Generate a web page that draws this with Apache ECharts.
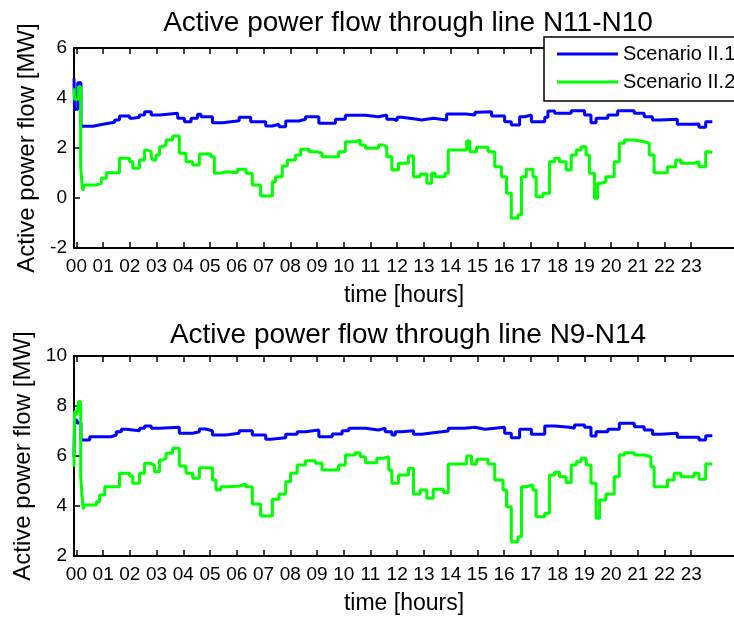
<!DOCTYPE html>
<html>
<head>
<meta charset="utf-8">
<script src="https://cdn.jsdelivr.net/npm/echarts@6.0.0/dist/echarts.min.js"></script>
<style>
  html, body { margin: 0; padding: 0; background: #fff; }
  #chart { width: 734px; height: 617px; }
</style>
</head>
<body>
<div id="chart"></div>
<script>
// hour ticks 00..23
var hours = [];
for (var h = 0; h < 24; h++) hours.push(h);

// line N11-N10 : step breakpoints (hour, MW)
var topBlueT = [-0.09, -0.07, 0.05, 0.17, 0.62, 0.99, 1.43, 1.61, 1.99, 2.11, 2.36, 2.55, 2.80, 3.11, 3.79, 4.04, 4.29, 4.53, 4.66, 5.09, 5.47, 6.09, 6.52, 7.08, 7.33, 7.58, 7.83, 8.32, 8.57, 9.07, 9.69, 10.06, 10.81, 11.30, 11.61, 11.86, 12.0, 12.17, 12.61, 12.92, 13.35, 13.85, 14.58, 14.91, 15.03, 15.53, 16.02, 16.27, 16.58, 16.77, 17.02, 17.52, 17.64, 17.89, 18.51, 19.01, 19.25, 19.44, 19.88, 20.25, 20.87, 21.24, 21.55, 21.86, 22.48, 22.98, 23.29, 23.54, 23.79];
var topBlueV = [4.79, 3.55, 4.61, 2.87, 2.95, 3.03, 3.12, 3.28, 3.19, 3.23, 3.32, 3.45, 3.32, 3.39, 3.19, 3.05, 3.19, 3.35, 3.25, 3.01, 3.09, 3.23, 3.05, 2.88, 2.95, 2.85, 3.08, 3.15, 3.25, 2.99, 3.15, 3.31, 3.25, 3.32, 3.15, 3.10, 3.23, 3.17, 3.12, 3.19, 3.12, 3.36, 3.32, 3.43, 3.45, 3.28, 3.05, 2.92, 3.25, 3.32, 3.05, 3.23, 3.48, 3.39, 3.49, 3.32, 3.01, 3.19, 3.32, 3.49, 3.39, 3.25, 3.12, 3.15, 2.95, 2.96, 2.83, 3.05, 3.05];
var topGreenT = [-0.09, -0.07, 0.08, 0.16, 0.2, 0.24, 0.3, 0.74, 0.93, 1.12, 1.61, 1.99, 2.11, 2.36, 2.55, 2.67, 2.80, 2.86, 2.98, 3.11, 3.23, 3.35, 3.60, 3.85, 4.10, 4.35, 4.60, 5.03, 5.16, 5.34, 5.65, 6.02, 6.34, 6.58, 6.89, 7.33, 7.45, 7.70, 7.89, 8.20, 8.39, 8.70, 9.01, 9.19, 9.81, 10.06, 10.43, 10.62, 10.81, 11.30, 11.49, 11.61, 11.80, 12.05, 12.42, 12.61, 12.86, 13.11, 13.29, 13.42, 13.79, 13.91, 14.60, 14.72, 14.97, 15.40, 15.65, 15.90, 16.09, 16.27, 16.52, 16.65, 16.83, 17.08, 17.20, 17.45, 17.70, 17.89, 18.07, 18.32, 18.51, 18.70, 18.88, 19.07, 19.19, 19.38, 19.50, 19.63, 19.81, 20.12, 20.31, 20.50, 20.87, 21.24, 21.43, 21.61, 22.11, 22.42, 22.61, 23.11, 23.29, 23.54, 23.66, 23.79];
var topGreenV = [4.39, 3.95, 4.45, 1.25, 0.7, 0.3, 0.52, 0.59, 0.79, 1.01, 1.59, 1.45, 1.19, 1.52, 1.92, 1.85, 1.65, 1.52, 1.72, 2.05, 2.12, 2.32, 2.48, 1.79, 1.45, 1.32, 1.76, 1.65, 0.99, 1.05, 1.01, 1.15, 0.99, 0.52, 0.08, 0.65, 0.85, 1.28, 1.52, 1.72, 1.95, 1.85, 1.79, 1.65, 1.85, 2.25, 2.32, 2.12, 1.99, 2.12, 2.05, 1.65, 1.12, 1.39, 1.68, 0.85, 0.96, 0.59, 0.99, 0.85, 0.99, 1.92, 2.28, 1.85, 2.03, 1.85, 1.25, 0.85, 0.19, -0.81, -0.68, 0.85, 1.15, 0.85, 0.05, 0.19, 1.45, 1.59, 1.45, 1.12, 1.72, 1.92, 2.05, 1.72, 0.99, -0.01, 0.59, 0.65, 0.85, 1.45, 2.19, 2.32, 2.25, 2.19, 1.72, 1.01, 1.25, 1.52, 1.39, 1.45, 1.25, 1.85, 1.82, 1.82];

// line N9-N14
var botBlueT = [-0.09, -0.07, 0.02, 0.17, 0.50, 1.30, 1.49, 1.68, 1.86, 2.36, 2.55, 2.80, 3.11, 3.85, 4.35, 4.60, 4.84, 5.09, 5.59, 6.09, 6.58, 7.08, 7.27, 7.83, 8.26, 8.57, 9.07, 9.57, 9.94, 10.19, 10.81, 11.30, 11.55, 11.80, 11.93, 12.17, 12.61, 12.92, 13.35, 13.91, 14.53, 14.91, 15.28, 16.02, 16.27, 16.58, 17.02, 17.52, 17.89, 18.45, 18.63, 19.01, 19.25, 19.44, 19.88, 20.31, 20.87, 21.24, 21.55, 21.86, 22.48, 23.29, 23.54, 23.79];
var botBlueV = [5.97, 7.44, 7.32, 6.64, 6.77, 6.84, 6.97, 7.07, 7.01, 7.11, 7.2, 7.11, 7.15, 6.91, 6.97, 7.08, 7.01, 6.84, 6.91, 7.01, 6.84, 6.67, 6.73, 6.87, 6.97, 7.04, 6.77, 6.88, 7.01, 7.11, 7.04, 7.11, 6.97, 6.84, 6.97, 7.01, 6.87, 6.93, 7.0, 7.11, 7.15, 7.07, 7.15, 6.91, 6.73, 7.07, 6.87, 7.2, 7.15, 7.11, 7.24, 7.15, 6.8, 6.97, 7.07, 7.31, 7.17, 7.04, 6.87, 6.91, 6.75, 6.64, 6.81, 6.81];
var botGreenT = [-0.09, -0.07, 0.02, 0.08, 0.16, 0.22, 0.25, 0.31, 0.75, 0.87, 1.06, 1.61, 1.99, 2.11, 2.36, 2.55, 2.73, 2.92, 3.11, 3.23, 3.35, 3.60, 3.85, 4.10, 4.35, 4.60, 5.09, 5.22, 5.40, 5.71, 6.09, 6.34, 6.58, 6.89, 7.33, 7.58, 7.83, 8.01, 8.26, 8.57, 8.94, 9.19, 9.81, 10.06, 10.43, 10.62, 10.81, 11.24, 11.49, 11.68, 11.80, 12.05, 12.42, 12.61, 12.86, 13.11, 13.35, 13.73, 13.91, 14.60, 14.78, 14.97, 15.40, 15.65, 15.96, 16.09, 16.27, 16.52, 16.65, 16.83, 17.08, 17.20, 17.52, 17.70, 17.89, 18.07, 18.32, 18.51, 18.70, 18.88, 19.07, 19.25, 19.44, 19.57, 19.81, 20.12, 20.31, 20.50, 20.87, 21.24, 21.49, 21.61, 22.11, 22.36, 22.61, 23.11, 23.29, 23.54, 23.79];
var botGreenV = [5.57, 7.77, 7.64, 8.17, 5.17, 4.3, 3.87, 4.04, 4.17, 4.44, 4.77, 5.31, 5.2, 4.91, 5.31, 5.71, 5.64, 5.37, 5.84, 5.91, 6.11, 6.31, 5.6, 5.31, 5.11, 5.53, 5.04, 4.64, 4.77, 4.8, 4.88, 4.77, 4.08, 3.6, 4.27, 4.48, 4.97, 5.31, 5.64, 5.81, 5.71, 5.44, 5.64, 6.04, 6.13, 5.97, 5.73, 5.91, 5.97, 5.44, 4.91, 5.24, 5.51, 4.48, 4.64, 4.31, 4.67, 4.53, 5.68, 6.0, 5.68, 5.87, 5.68, 5.04, 4.64, 3.97, 2.57, 2.77, 4.77, 4.84, 4.64, 3.57, 3.71, 5.24, 5.35, 5.17, 4.93, 5.64, 5.77, 5.91, 5.64, 4.91, 3.51, 4.24, 4.48, 5.17, 6.04, 6.13, 6.04, 5.97, 5.57, 4.77, 5.04, 5.31, 5.17, 5.31, 5.07, 5.68, 5.68];

var titles = ["Active power flow through line N11-N10", "Active power flow through line N9-N14"];
var seriesNames = ["Scenario II.1", "Scenario II.2"];
var yRanges = [[-2, 6], [2, 10]];

var FONT = "'Liberation Sans', Arial, Helvetica, sans-serif";

function pairs (t, v) {
  return t.map(function (x, i) { return [x, v[i]]; });
}

var chart = echarts.init(document.getElementById("chart"));

var gridTops = [48, 356];
var grids = [], xAxes = [], yAxes = [], series = [];

gridTops.forEach(function (top, k) {
  grids.push({ left: 74, top: top, width: 663, height: 200 });

  // bottom axis with labels
  xAxes.push({
    type: "value",
    gridIndex: k,
    position: "bottom",
    min: -0.09,
    max: 24.6,
    name: "time [hours]",
    nameLocation: "middle",
    nameGap: 36,
    nameTextStyle: { color: "#000", fontSize: 23, fontFamily: FONT },
    axisLine: { onZero: false, lineStyle: { color: "#000", width: 2 } },
    axisTick: { show: true, inside: true, length: 6, customValues: hours, lineStyle: { color: "#000", width: 1.5 } },
    axisLabel: {
      color: "#000", fontSize: 19, fontFamily: FONT, margin: 9,
      customValues: hours,
      formatter: function (v) { return (v < 10 ? "0" : "") + v; }
    },
    splitLine: { show: false }
  });
  // top border with ticks only
  xAxes.push({
    type: "value",
    gridIndex: k,
    position: "top",
    min: -0.09,
    max: 24.6,
    axisLine: { onZero: false, lineStyle: { color: "#000", width: 2 } },
    axisTick: { show: true, inside: true, length: 6, customValues: hours, lineStyle: { color: "#000", width: 1.5 } },
    axisLabel: { show: false },
    splitLine: { show: false }
  });

  yAxes.push({
    type: "value",
    gridIndex: k,
    min: yRanges[k][0],
    max: yRanges[k][1],
    interval: 2,
    name: "Active power flow [MW]",
    nameLocation: "middle",
    nameGap: 22,
    nameTextStyle: { color: "#000", fontSize: 24, fontFamily: FONT },
    axisLine: { show: true, onZero: false, lineStyle: { color: "#000", width: 2 } },
    axisTick: { show: true, inside: true, length: 6, lineStyle: { color: "#000", width: 1.5 } },
    axisLabel: { color: "#000", fontSize: 19, fontFamily: FONT, margin: 7 },
    splitLine: { show: false }
  });
});

var data = [
  [pairs(topBlueT, topBlueV), pairs(topGreenT, topGreenV)],
  [pairs(botBlueT, botBlueV), pairs(botGreenT, botGreenV)]
];
var colors = ["#0000ff", "#00ff00"];

data.forEach(function (pair, k) {
  pair.forEach(function (d, j) {
    series.push({
      name: seriesNames[j],
      type: "line",
      xAxisIndex: k * 2,
      yAxisIndex: k,
      data: d,
      step: "end",
      symbol: "none",
      animation: false,
      lineStyle: { color: colors[j], width: 3 },
      itemStyle: { color: colors[j] }
    });
  });
});

var option = {
  backgroundColor: "#fff",
  animation: false,
  title: [
    {
      text: titles[0], left: 403, top: 4, textAlign: "center",
      textStyle: { color: "#000", fontSize: 28, fontWeight: "normal", fontFamily: FONT }
    },
    {
      text: titles[1], left: 403, top: 316, textAlign: "center",
      textStyle: { color: "#000", fontSize: 28, fontWeight: "normal", fontFamily: FONT }
    }
  ],
  legend: {
    data: seriesNames,
    orient: "vertical",
    left: 544,
    top: 37,
    padding: [7, 10, 9, 13],
    itemGap: 8,
    icon: "rect",
    itemWidth: 61,
    itemHeight: 3,
    backgroundColor: "#fff",
    borderColor: "#000",
    borderWidth: 1.5,
    borderRadius: 0,
    textStyle: { color: "#000", fontSize: 20, fontFamily: FONT, lineHeight: 20 }
  },
  grid: grids,
  xAxis: xAxes,
  yAxis: yAxes,
  series: series
};

chart.setOption(option);
</script>
</body>
</html>
